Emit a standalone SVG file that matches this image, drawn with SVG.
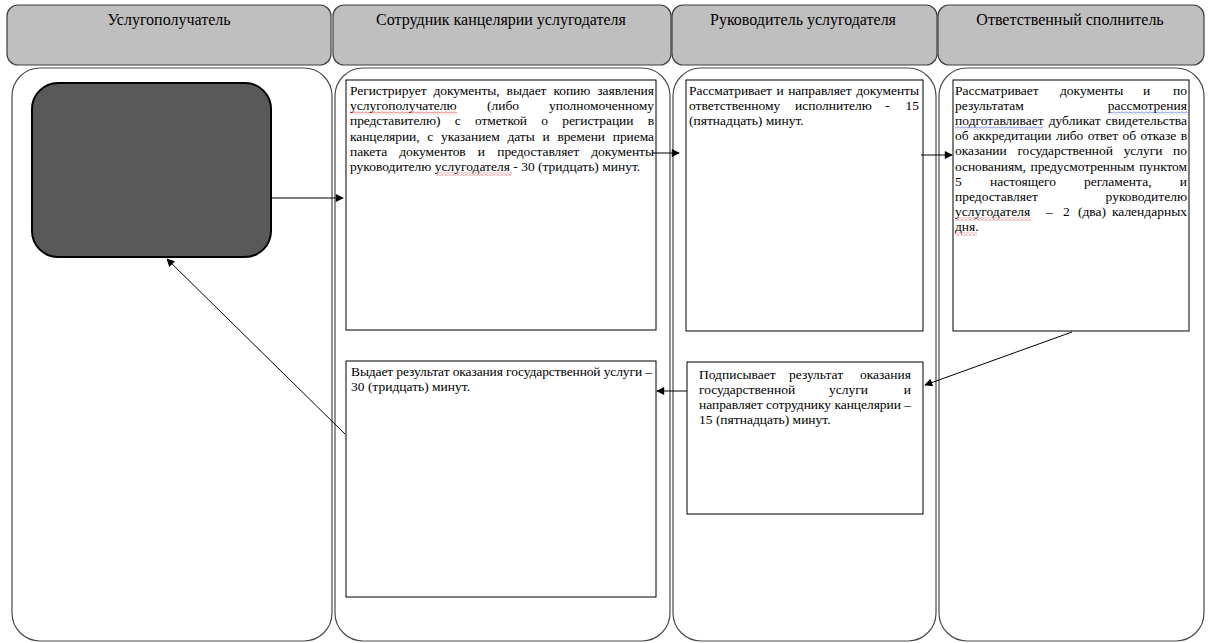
<svg xmlns="http://www.w3.org/2000/svg" width="1208" height="643" viewBox="0 0 1208 643">
<defs>
<style>
.hdr{fill:#bfbfbf;stroke:#3f3f3f;stroke-width:1.2}
.lane{fill:#fff;stroke:#4a4a4a;stroke-width:1.2}
.box{fill:#fff;stroke:#000;stroke-width:1}
.ht{font-family:"Liberation Serif","Times New Roman",serif;font-size:16px;fill:#000;text-anchor:middle}
.t{font-family:"Liberation Serif","Times New Roman",serif;font-size:13.5px;fill:#000}
.e{text-anchor:end}
.c{fill:none;stroke:#000;stroke-width:1;marker-end:url(#ah)}
</style>
<marker id="ah" viewBox="0 0 10 10" refX="9" refY="5" markerWidth="9" markerHeight="8" markerUnits="userSpaceOnUse" orient="auto">
<path d="M0,0 L10,5 L0,10 z" fill="#000"/>
</marker>
<pattern id="wr" width="4" height="3" patternUnits="userSpaceOnUse">
<path d="M0,2.5 L2,0.5 L4,2.5" fill="none" stroke="#e02020" stroke-width="0.8"/>
</pattern>
<pattern id="wb" width="4" height="3" patternUnits="userSpaceOnUse">
<path d="M0,2.5 L2,0.5 L4,2.5" fill="none" stroke="#3050d0" stroke-width="0.8"/>
</pattern>
</defs>
<rect width="1208" height="643" fill="#fff"/>

<g id="lanes">
<rect class="lane" x="12" y="68" width="320" height="573" rx="28"/>
<rect class="lane" x="335" y="68" width="335" height="573" rx="28"/>
<rect class="lane" x="673" y="68" width="263" height="573" rx="28"/>
<rect class="lane" x="939" y="68" width="265" height="573" rx="28"/>
</g>

<g id="headers">
<g id="h1"><rect class="hdr" x="7" y="5" width="324" height="60" rx="11"/><text class="ht" x="169" y="25">Услугополучатель</text></g>
<g id="h2"><rect class="hdr" x="333" y="5" width="338" height="60" rx="11"/><text class="ht" x="501" y="25">Сотрудник канцелярии услугодателя</text></g>
<g id="h3"><rect class="hdr" x="672" y="5" width="265" height="60" rx="11"/><text class="ht" x="803" y="25">Руководитель услугодателя</text></g>
<g id="h4"><rect class="hdr" x="938" y="5" width="266" height="60" rx="11"/><text class="ht" x="1070" y="25">Ответственный сполнитель</text></g>
</g>

<g id="start">
<rect x="32" y="83" width="239" height="174" rx="26" fill="#595959" stroke="#000" stroke-width="2"/>
</g>

<g id="n1">
<rect class="box" x="346" y="80" width="310" height="250"/>
<text class="t" x="350" y="95" word-spacing="3.7" textLength="304" lengthAdjust="spacing">Регистрирует документы, выдает копию заявления</text>
<text class="t" x="350" y="110">услугополучателю</text>
<text class="t" x="487" y="110">(либо</text>
<text class="t e" x="654" y="110">уполномоченному</text>
<text class="t" x="350" y="125" word-spacing="11" textLength="304" lengthAdjust="spacing">представителю) с отметкой о регистрации в</text>
<text class="t" x="350" y="141" word-spacing="4.5" textLength="304" lengthAdjust="spacing">канцелярии, с указанием даты и времени приема</text>
<text class="t" x="350" y="156" word-spacing="8.9" textLength="304" lengthAdjust="spacing">пакета документов и предоставляет документы</text>
<text class="t" x="350" y="171">руководителю услугодателя - 30 (тридцать) минут.</text>
<rect x="350" y="111.5" width="107" height="3" fill="url(#wr)"/>
<rect x="436" y="172.5" width="76" height="3" fill="url(#wr)"/>
</g>

<g id="n2">
<rect class="box" x="686" y="80" width="237" height="251"/>
<text class="t" x="689" y="95" word-spacing="1.2" textLength="230" lengthAdjust="spacing">Рассматривает и направляет документы</text>
<text class="t" x="689" y="110">ответственному</text>
<text class="t" x="795" y="110">исполнителю</text>
<text class="t" x="885" y="110">-</text>
<text class="t e" x="919" y="110">15</text>
<text class="t" x="689" y="125">(пятнадцать) минут.</text>
</g>

<g id="n3">
<rect class="box" x="953" y="80" width="236" height="251"/>
<text class="t" x="955" y="95">Рассматривает</text>
<text class="t" x="1060" y="95">документы</text>
<text class="t" x="1143" y="95">и</text>
<text class="t e" x="1187" y="95">по</text>
<text class="t" x="955" y="110">результатам</text>
<text class="t e" x="1187" y="110">рассмотрения</text>
<text class="t" x="955" y="125" word-spacing="1.5" textLength="232" lengthAdjust="spacing">подготавливает дубликат свидетельства</text>
<text class="t" x="955" y="140" word-spacing="1.2" textLength="232" lengthAdjust="spacing">об аккредитации либо ответ об отказе в</text>
<text class="t" x="955" y="155" word-spacing="7.4" textLength="232" lengthAdjust="spacing">оказании государственной услуги по</text>
<text class="t" x="955" y="171" word-spacing="1.5" textLength="232" lengthAdjust="spacing">основаниям, предусмотренным пунктом</text>
<text class="t" x="955" y="186">5</text>
<text class="t" x="990" y="186">настоящего</text>
<text class="t" x="1084" y="186">регламента,</text>
<text class="t e" x="1187" y="186">и</text>
<text class="t" x="955" y="201">предоставляет</text>
<text class="t e" x="1187" y="201">руководителю</text>
<text class="t" x="955" y="216">услугодателя</text>
<text class="t" x="1046" y="216">–</text>
<text class="t" x="1063" y="216">2</text>
<text class="t" x="1078" y="216">(два)</text>
<text class="t e" x="1187" y="216">календарных</text>
<text class="t" x="955" y="231">дня.</text>
<rect x="1109" y="111.5" width="79" height="3" fill="url(#wb)"/>
<rect x="955" y="126.5" width="88" height="3" fill="url(#wb)"/>
<rect x="955" y="217.5" width="76" height="3" fill="url(#wr)"/>
<rect x="955" y="232.5" width="22" height="3" fill="url(#wr)"/>
</g>

<g id="n4">
<rect class="box" x="346" y="361" width="310" height="236"/>
<text class="t" x="351" y="376" textLength="301" lengthAdjust="spacing">Выдает результат оказания государственной услуги –</text>
<text class="t" x="351" y="391">30 (тридцать) минут.</text>
</g>

<g id="n5">
<rect class="box" x="687" y="362" width="236" height="152"/>
<text class="t" x="699" y="379">Подписывает</text>
<text class="t" x="789" y="379">результат</text>
<text class="t e" x="911" y="379">оказания</text>
<text class="t" x="699" y="394">государственной</text>
<text class="t" x="829" y="394">услуги</text>
<text class="t e" x="911" y="394">и</text>
<text class="t" x="699" y="409" textLength="212" lengthAdjust="spacing">направляет сотруднику канцелярии –</text>
<text class="t" x="699" y="424">15 (пятнадцать) минут.</text>
</g>

<g id="connectors">
<line class="c" x1="272" y1="198" x2="343" y2="198"/>
<line class="c" x1="652" y1="153" x2="679" y2="153"/>
<line class="c" x1="921" y1="155" x2="952" y2="155"/>
<line class="c" x1="1072" y1="332" x2="925" y2="385"/>
<line class="c" x1="687" y1="391" x2="657" y2="391"/>
<line class="c" x1="345" y1="434" x2="167" y2="259"/>
</g>
</svg>
